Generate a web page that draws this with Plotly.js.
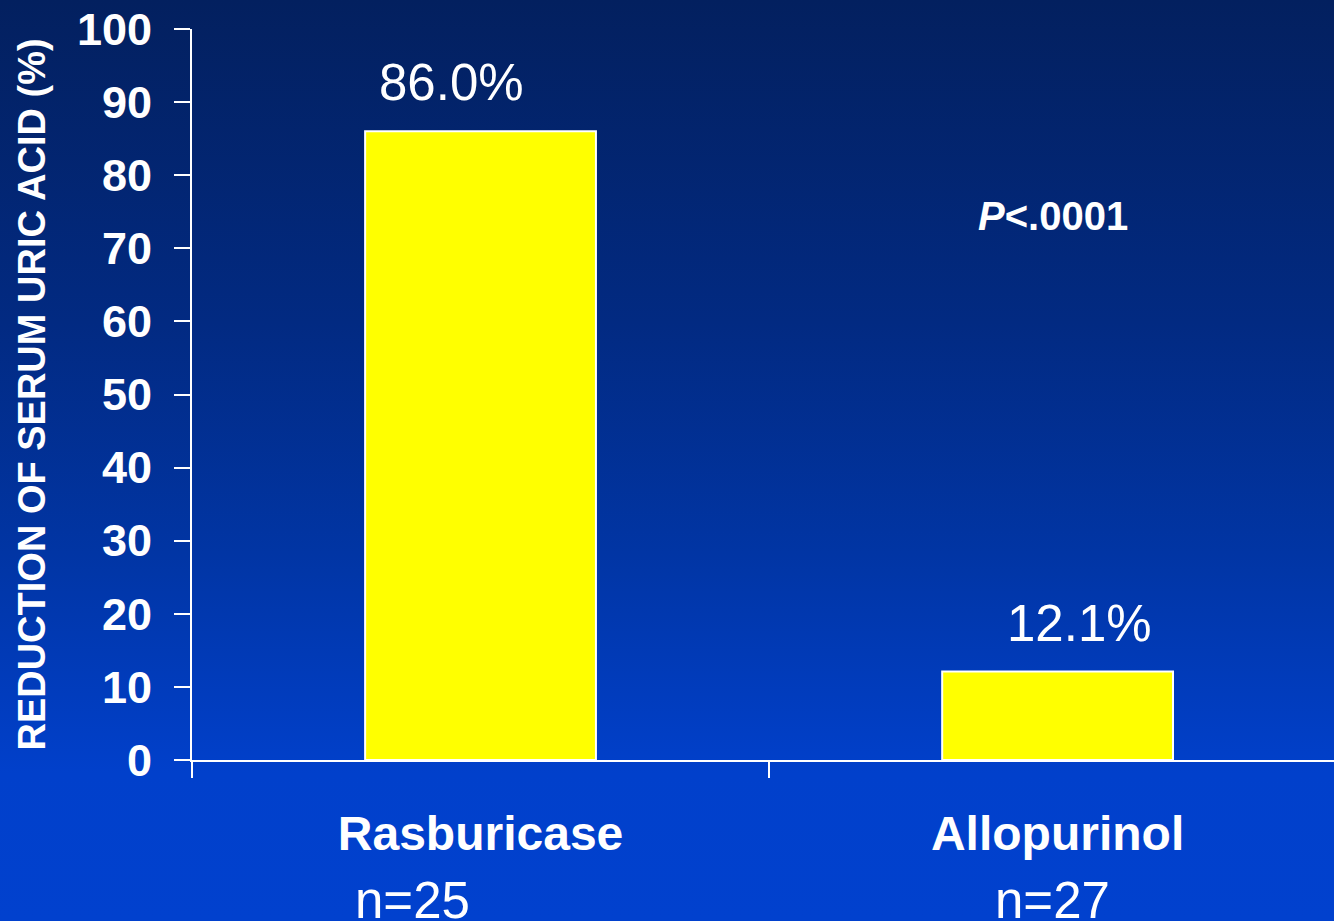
<!DOCTYPE html>
<html>
<head>
<meta charset="utf-8">
<script src="https://cdn.plot.ly/plotly-3.0.1.min.js"></script>
<style>
  html, body { margin: 0; padding: 0; }
  body {
    width: 1334px; height: 921px; overflow: hidden;
    background: linear-gradient(to bottom, #03205f 0%, #022a82 35%, #0135a4 60%, #0140cb 84%, #0141ce 100%);
  }
  #chart { width: 1334px; height: 921px; }
</style>
</head>
<body>
<div id="chart"></div>
<script>
// Treatment groups and mean reduction of serum uric acid (%)
const groups = ["Rasburicase", "Allopurinol"];
const sampleSizes = ["n=25", "n=27"];
const reduction = [86.0, 12.1];
const yTicks = [0, 10, 20, 30, 40, 50, 60, 70, 80, 90, 100];
const pValueText = "<i>P</i><.0001";

const FONT = "Arial, 'Liberation Sans', sans-serif";

const bars = {
  type: "bar",
  x: groups,
  y: reduction,
  width: 0.4,
  marker: { color: "#ffff00", line: { color: "#ffffff", width: 2 } },
  hoverinfo: "skip"
};

// value labels above each bar
const valueLabels = groups.map((g, i) => ({
  x: g, y: reduction[i], xref: "x", yref: "y",
  text: reduction[i].toFixed(1) + "%",
  showarrow: false, yanchor: "bottom", yshift: 18,
  xshift: i === 0 ? -29 : 22,
  font: { family: FONT, size: 51, color: "#ffffff" }
}));

// sample sizes under the category names
const nLabels = groups.map((g, i) => ({
  x: g, y: 0, xref: "x", yref: "y",
  text: sampleSizes[i],
  showarrow: false, yanchor: "top", yshift: -110,
  xshift: i === 0 ? -68 : -5,
  font: { family: FONT, size: 51, color: "#ffffff" }
}));

const pLabel = {
  x: 1, y: 75, xref: "x", yref: "y",
  text: pValueText, showarrow: false,
  xshift: -5, yshift: -4,
  font: { family: FONT, size: 40, color: "#ffffff", weight: "bold" }
};

const layout = {
  width: 1334, height: 921,
  paper_bgcolor: "rgba(0,0,0,0)",
  plot_bgcolor: "rgba(0,0,0,0)",
  margin: { l: 192, r: 0, t: 29, b: 161 },
  showlegend: false,
  xaxis: {
    type: "category",
    range: [-0.5, 1.479],
    showline: true, linecolor: "#ffffff", linewidth: 2,
    ticks: "outside", tickson: "boundaries", ticklen: 16, tickwidth: 2, tickcolor: "#ffffff",
    showgrid: false, zeroline: false,
    tickfont: { family: FONT, size: 48, color: "#ffffff", weight: "bold" },
    ticklabelstandoff: 30
  },
  yaxis: {
    range: [0, 100],
    tickvals: yTicks,
    showline: true, linecolor: "#ffffff", linewidth: 2,
    ticks: "outside", ticklen: 16, tickwidth: 2, tickcolor: "#ffffff",
    showgrid: false, zeroline: false,
    tickfont: { family: FONT, size: 45, color: "#ffffff", weight: "bold" },
    ticklabelstandoff: 13,
    title: {
      text: "REDUCTION OF SERUM URIC ACID (%)",
      font: { family: FONT, size: 38, color: "#ffffff", weight: "bold" },
      standoff: 20
    }
  },
  annotations: [...valueLabels, ...nLabels, pLabel]
};

Plotly.newPlot("chart", [bars], layout, { staticPlot: true, displayModeBar: false });
</script>
</body>
</html>
